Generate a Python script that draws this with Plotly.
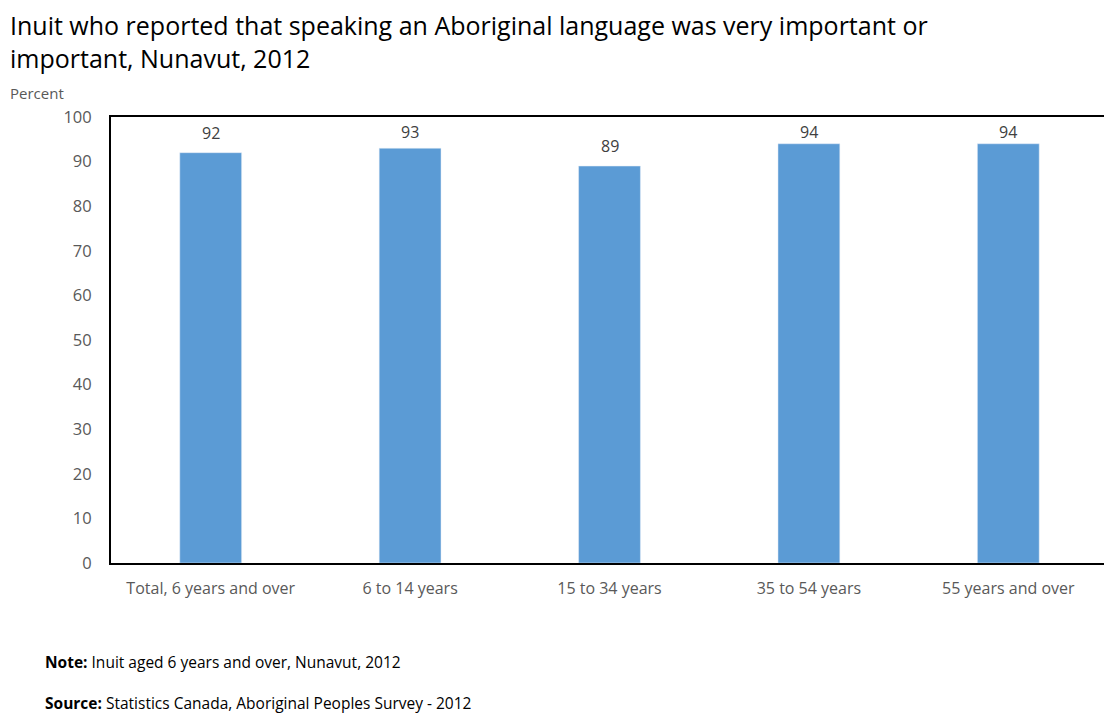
import plotly.graph_objects as go

# Data
categories = [
    "Total, 6 years and over",
    "6 to 14 years",
    "15 to 34 years",
    "35 to 54 years",
    "55 years and over",
]
percent_values = [92, 93, 89, 94, 94]
y_ticks = list(range(0, 101, 10))
title_text = (
    "Inuit who reported that speaking an Aboriginal language was very important or"
    "<br>important, Nunavut, 2012"
)

FONT = "Open Sans"
GREY = "#595959"

# the page body has an 8px margin, so positions are shifted by that
fig = go.Figure(
    go.Bar(
        x=categories,
        y=percent_values,
        marker_color="#5B9BD5",
        hoverinfo="x+y",
    )
)

# value labels above bars, kept inside the plot box like Excel does
labels = [
    dict(
        x=c, y=min(v + 4.5, 96.6), xref="x", yref="y",
        text=str(v),
        showarrow=False,
        yanchor="middle",
        font=dict(family=FONT, size=16, color="#404040"),
    )
    for c, v in zip(categories, percent_values)
]

fig.update_layout(
    width=1104,
    height=707,
    plot_bgcolor="white",
    paper_bgcolor="white",
    margin=dict(l=103, r=2, t=109, b=152),
    bargap=0.69,
    showlegend=False,
    xaxis=dict(
        showgrid=False,
        showline=True,
        linecolor="black",
        linewidth=2,
        mirror=True,
        ticks="",
        ticklabelstandoff=10,
        tickfont=dict(family=FONT, size=16, color=GREY),
    ),
    yaxis=dict(
        range=[0, 100],
        tickvals=y_ticks,
        showgrid=False,
        showline=True,
        linecolor="black",
        linewidth=2,
        mirror=True,
        ticks="",
        ticklabelstandoff=14,
        tickfont=dict(family=FONT, size=16.5, color=GREY),
    ),
    annotations=labels + [
        dict(
            text=title_text,
            xref="paper", yref="paper",
            x=-0.1031, y=1.1704,
            xanchor="left", yanchor="middle",
            align="left",
            showarrow=False,
            font=dict(family=FONT, size=25, color="#000000"),
        ),
        dict(
            text="Percent",
            xref="paper", yref="paper",
            x=-0.1031, y=1.0538,
            xanchor="left", yanchor="middle",
            showarrow=False,
            font=dict(family=FONT, size=15, color=GREY),
        ),
        dict(
            text="<b>Note:</b> Inuit aged 6 years and over, Nunavut, 2012",
            xref="paper", yref="paper",
            x=-0.0681, y=-0.222,
            xanchor="left", yanchor="middle",
            showarrow=False,
            font=dict(family=FONT, size=15.5, color="#000000"),
        ),
        dict(
            text="<b>Source:</b> Statistics Canada, Aboriginal Peoples Survey - 2012",
            xref="paper", yref="paper",
            x=-0.0681, y=-0.3139,
            xanchor="left", yanchor="middle",
            showarrow=False,
            font=dict(family=FONT, size=15.5, color="#000000"),
        ),
    ],
)

fig.write_html("out.html")
